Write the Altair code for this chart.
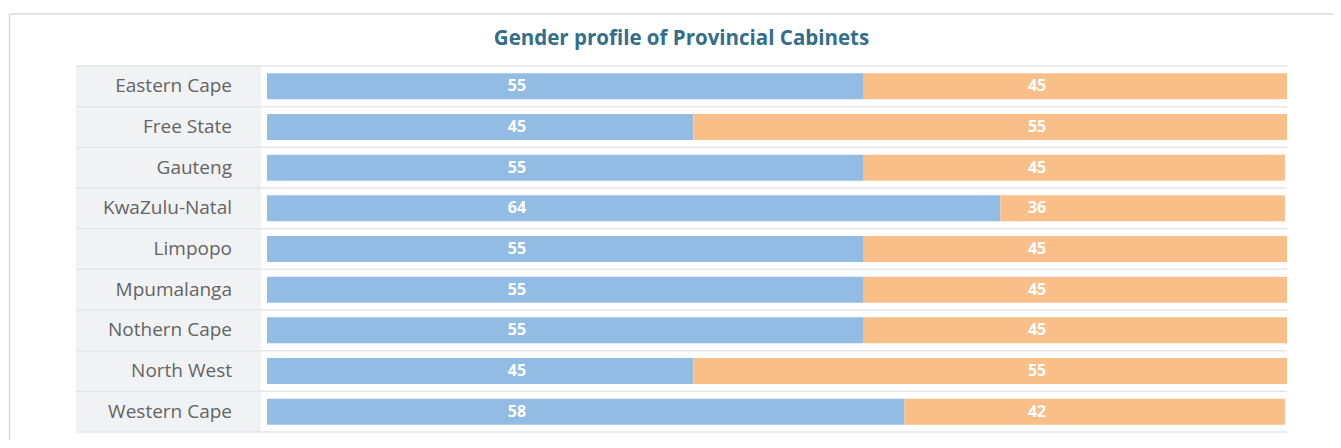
import altair as alt
import pandas as pd

provinces = ["Eastern Cape", "Free State", "Gauteng", "KwaZulu-Natal", "Limpopo",
             "Mpumalanga", "Nothern Cape", "North West", "Western Cape"]
men_label = [55, 45, 55, 64, 55, 55, 55, 45, 58]
women_label = [45, 55, 45, 36, 45, 45, 45, 55, 42]
# bar lengths as drawn in the picture (percent of full bar)
men_bar = [58.5, 41.8, 58.5, 71.9, 58.5, 58.5, 58.5, 41.8, 62.5]
women_bar = [41.5, 58.2, 41.3, 27.9, 41.5, 41.5, 41.5, 58.2, 37.3]
groups = ["Men", "Women"]
colors = ["#93BCE4", "#FABF88"]
title_text = "Gender profile of Provincial Cabinets"

rows = []
for i, p in enumerate(provinces):
    rows.append({"province": p, "group": "Men", "order": 0, "len": men_bar[i], "label": men_label[i]})
    rows.append({"province": p, "group": "Women", "order": 1, "len": women_bar[i], "label": women_label[i]})
df = pd.DataFrame(rows)
prov_df = pd.DataFrame({"province": provinces})
one = pd.DataFrame({"k": [0]})
title_df = pd.DataFrame({"t": [title_text]})

W, H = 1211, 366
yenc = alt.Y("province:N", sort=provinces, axis=None,
             scale=alt.Scale(paddingInner=0, paddingOuter=0))
xscale = alt.Scale(domain=[0, 100], range=[191, 1211], nice=False, zero=False)

frame_top = alt.Chart(one).mark_rule(color="#D9D9D9", strokeWidth=1.5).encode(
    x=alt.value(-66.5), x2=alt.value(1260), y=alt.value(-52))
frame_left = alt.Chart(one).mark_rule(color="#D9D9D9", strokeWidth=1.5).encode(
    x=alt.value(-66.5), y=alt.value(-52), y2=alt.value(380))

title = alt.Chart(title_df).mark_text(
    align="center", baseline="middle", font="Open Sans", fontSize=20.5, fontWeight="bold",
    color="#336E8A"
).encode(x=alt.value(W / 2), y=alt.value(-27), text="t:N")

label_bg = alt.Chart(one).mark_rect(color="#F1F2F4").encode(
    x=alt.value(0), x2=alt.value(185), y=alt.value(0), y2=alt.value(H))

seps = alt.Chart(prov_df).mark_rule(color="#E6E6E6", strokeWidth=1.5).encode(
    y=alt.Y("province:N", sort=provinces, axis=None, bandPosition=0,
            scale=alt.Scale(paddingInner=0, paddingOuter=0)),
    x=alt.value(0), x2=alt.value(W))
sep_bottom = alt.Chart(one).mark_rule(color="#E6E6E6", strokeWidth=1.5).encode(
    y=alt.value(H), x=alt.value(0), x2=alt.value(W))

names = alt.Chart(prov_df).mark_text(
    align="right", baseline="middle", font="Open Sans", fontSize=19, color="#646464"
).encode(y=yenc, x=alt.value(156), text="province:N")

bars = alt.Chart(df).mark_bar(height=26).encode(
    y=yenc,
    x=alt.X("len:Q", stack="zero", scale=xscale, axis=None),
    color=alt.Color("group:N", scale=alt.Scale(domain=groups, range=colors), legend=None),
    order=alt.Order("order:Q"),
)

men_text = alt.Chart(df[df.group == "Men"]).mark_text(
    baseline="middle", font="Open Sans", fontWeight="bold", fontSize=16, color="white"
).encode(y=yenc, x=alt.datum(24.5, scale=xscale), text="label:Q")
women_text = alt.Chart(df[df.group == "Women"]).mark_text(
    baseline="middle", font="Open Sans", fontWeight="bold", fontSize=16, color="white"
).encode(y=yenc, x=alt.datum(75.5), text="label:Q")

chart = alt.layer(
    frame_top, frame_left, title, label_bg, bars, seps, sep_bottom, names, men_text, women_text
).properties(
    width=W, height=H,
    autosize=alt.AutoSizeParams(type="none"),
    padding={"left": 68, "top": 58, "right": 46, "bottom": 8},
).configure_view(stroke=None)

chart.save("out.html", embed_options={"renderer": "svg", "actions": False})
